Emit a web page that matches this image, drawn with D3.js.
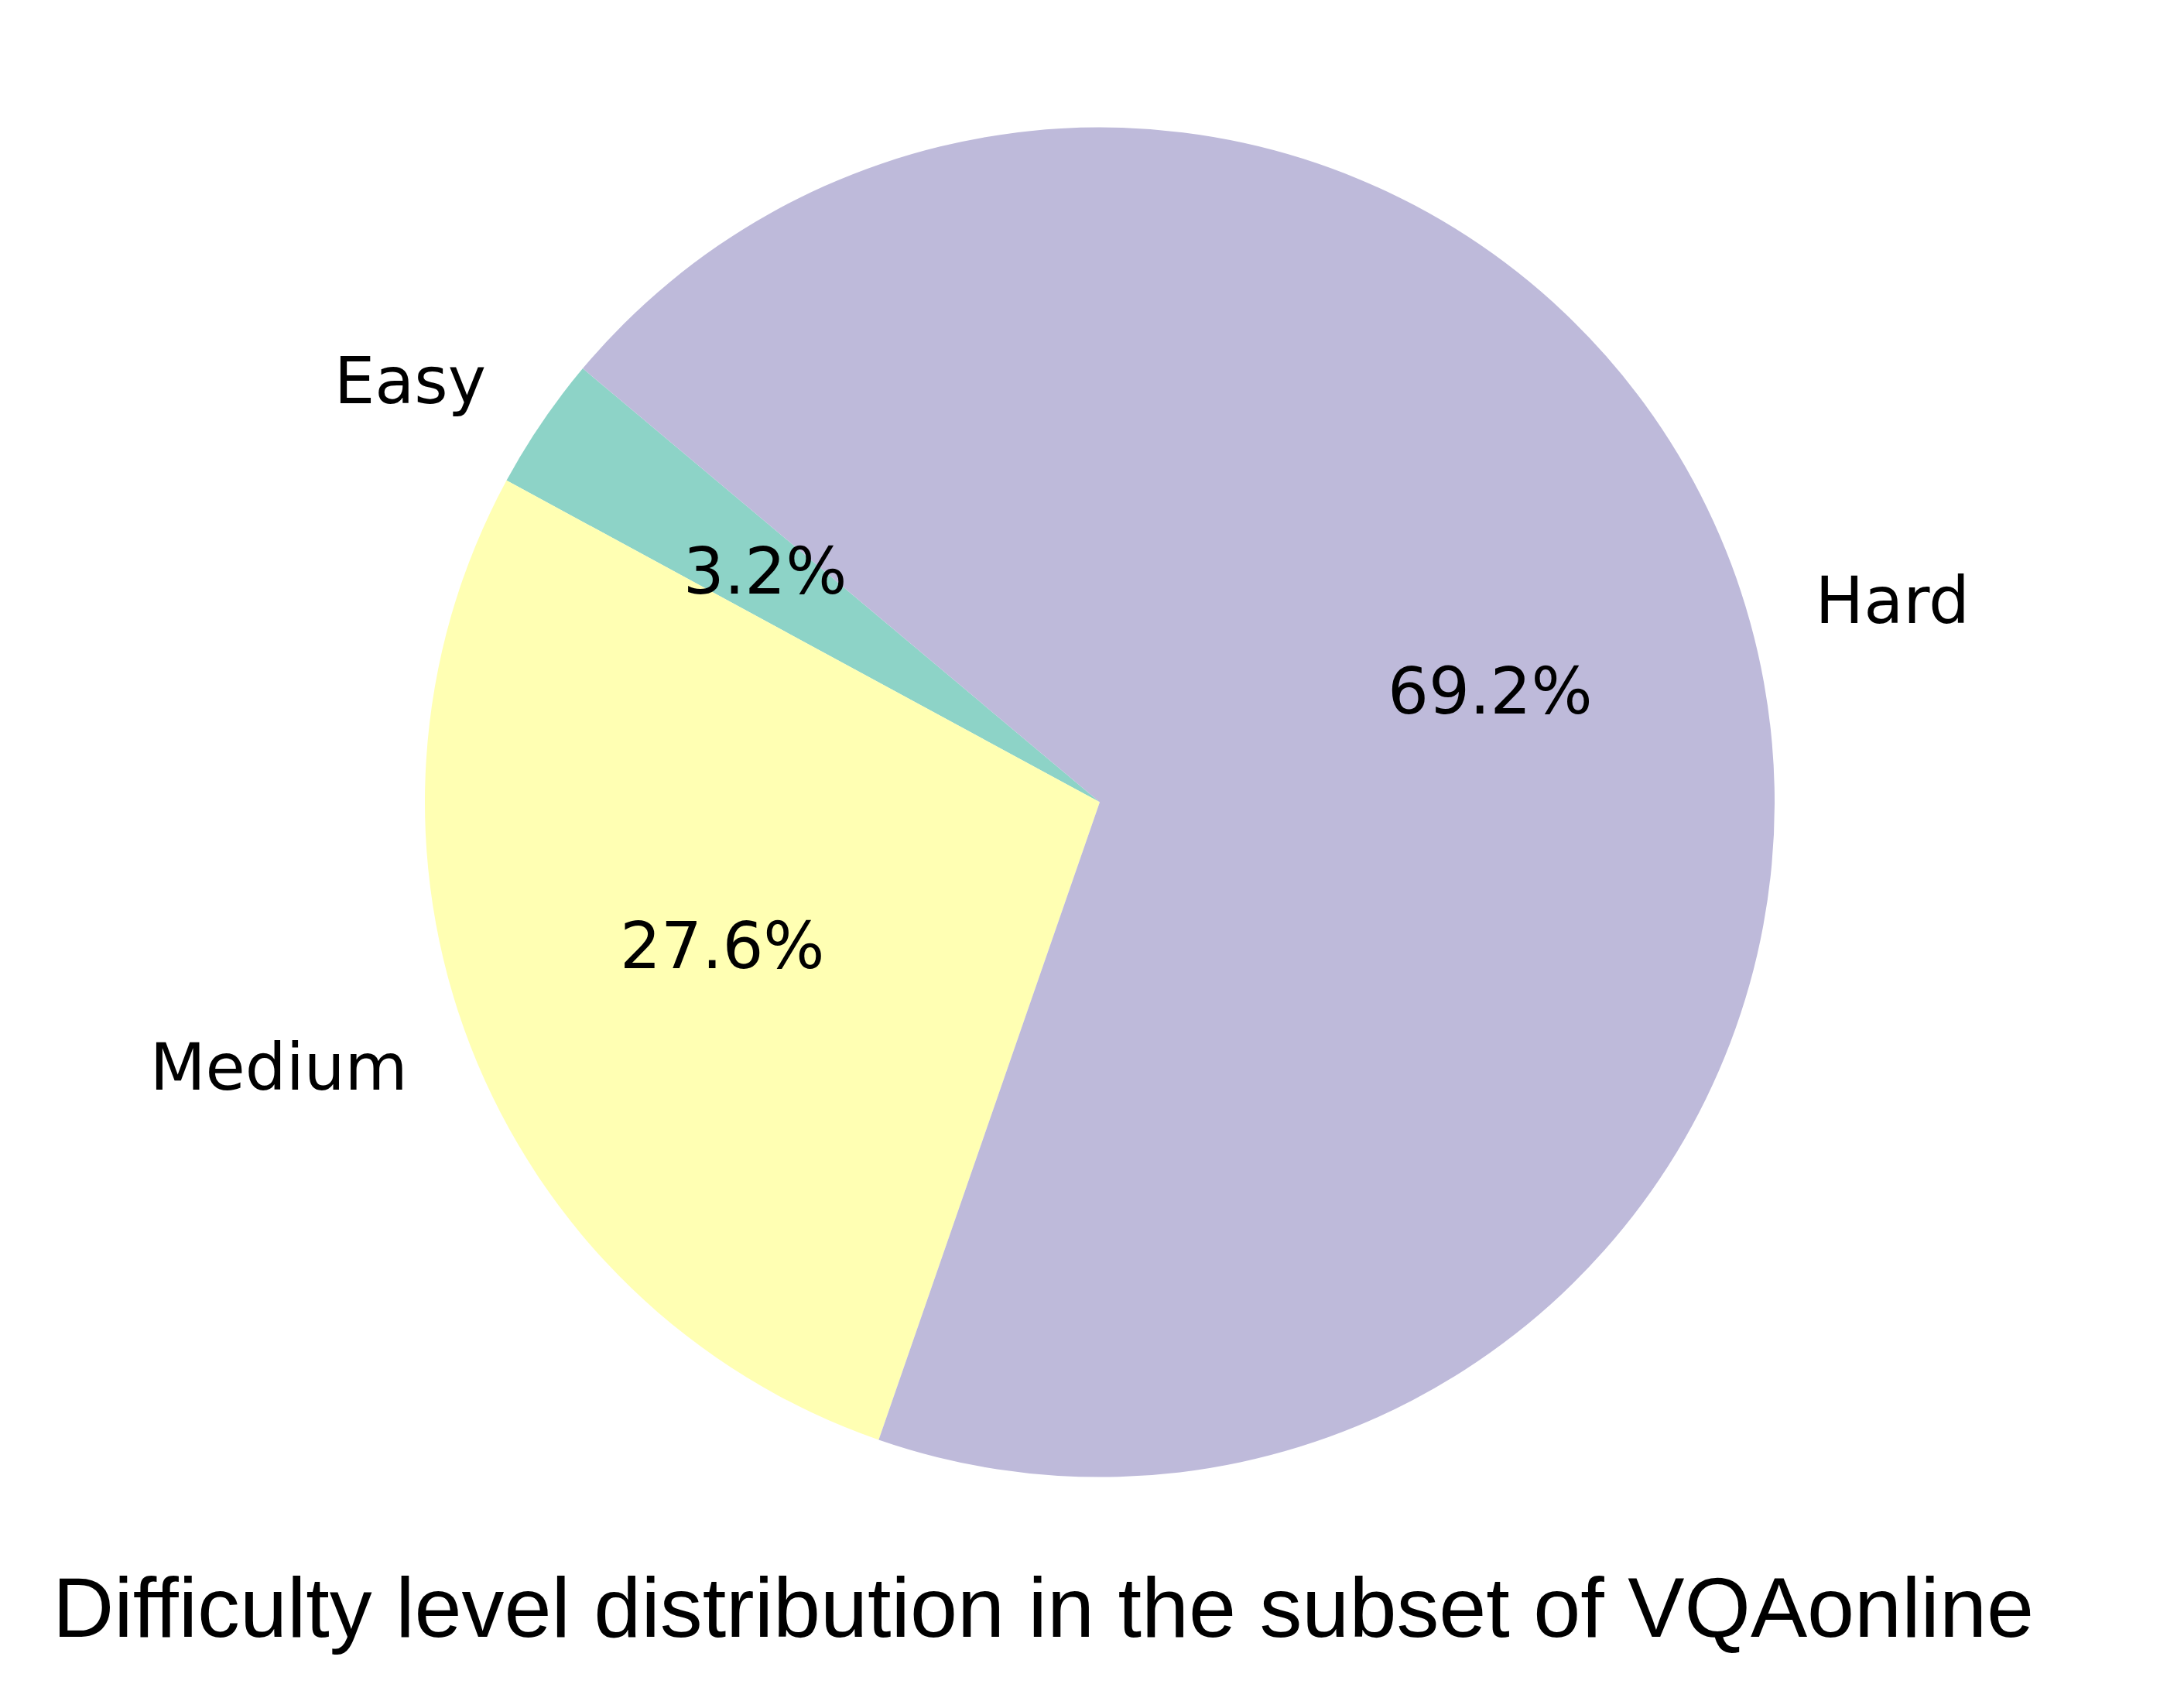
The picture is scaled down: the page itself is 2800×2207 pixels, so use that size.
<!DOCTYPE html>
<html>
<head>
<meta charset="utf-8">
<script src="https://cdn.jsdelivr.net/npm/d3@7"></script>
<style>
  html, body { margin: 0; padding: 0; background: #ffffff; }
  svg { display: block; }
</style>
</head>
<body>
<script>
const categories = ["Easy", "Medium", "Hard"];
const values = [3.2, 27.6, 69.2];
const colors = ["#8dd3c7", "#ffffb3", "#bebada"];
const titleText = "Difficulty level distribution in the subset of VQAonline";

const W = 2800, H = 2207;
const cx = 1421, cy = 1036.6, R = 872;
const startDeg = 140; // matplotlib startangle, counter-clockwise

const svg = d3.select("body").append("svg")
  .attr("width", W).attr("height", H)
  .attr("viewBox", `0 0 ${W} ${H}`);
svg.append("rect").attr("width", W).attr("height", H).attr("fill", "#ffffff");

const toRad = d => d * Math.PI / 180;
const d3Start = toRad(90 - startDeg);
const pie = d3.pie().sort(null).value(d => d.value)
  .startAngle(d3Start).endAngle(d3Start - 2 * Math.PI);

const data = categories.map((c, i) => ({ name: c, value: values[i], color: colors[i] }));
const arcs = pie(data);

const g = svg.append("g").attr("transform", `translate(${cx},${cy})`);
const arc = d3.arc().innerRadius(0).outerRadius(R);

g.selectAll("path.slice").data(arcs).enter().append("path")
  .attr("class", "slice")
  .attr("d", arc)
  .attr("fill", d => d.data.color);

const labelArc = d3.arc().innerRadius(R * 1.1).outerRadius(R * 1.1);
const pctArc = d3.arc().innerRadius(R * 0.6).outerRadius(R * 0.6);
const fontFamily = "'DejaVu Sans', sans-serif";
const fs = 83.3;

g.selectAll("text.lbl").data(arcs).enter().append("text")
  .attr("class", "lbl")
  .attr("x", d => labelArc.centroid(d)[0])
  .attr("y", d => labelArc.centroid(d)[1])
  .attr("dy", "0.29em")
  .attr("text-anchor", d => labelArc.centroid(d)[0] > 0 ? "start" : "end")
  .attr("font-family", fontFamily)
  .attr("font-size", fs)
  .attr("fill", "#000")
  .text(d => d.data.name);

const total = d3.sum(values);
g.selectAll("text.pct").data(arcs).enter().append("text")
  .attr("class", "pct")
  .attr("x", d => pctArc.centroid(d)[0])
  .attr("y", d => pctArc.centroid(d)[1])
  .attr("dy", "0.3em")
  .attr("text-anchor", "middle")
  .attr("font-family", fontFamily)
  .attr("font-size", fs)
  .attr("fill", "#000")
  .text(d => (d.data.value / total * 100).toFixed(1) + "%");

svg.append("text")
  .attr("x", 68).attr("y", 2115)
  .attr("text-anchor", "start")
  .attr("font-family", "'Liberation Sans', Arial, sans-serif")
  .attr("font-size", 110)
  .attr("textLength", 2560)
  .attr("lengthAdjust", "spacingAndGlyphs")
  .attr("fill", "#000")
  .text(titleText);
</script>
</body>
</html>
